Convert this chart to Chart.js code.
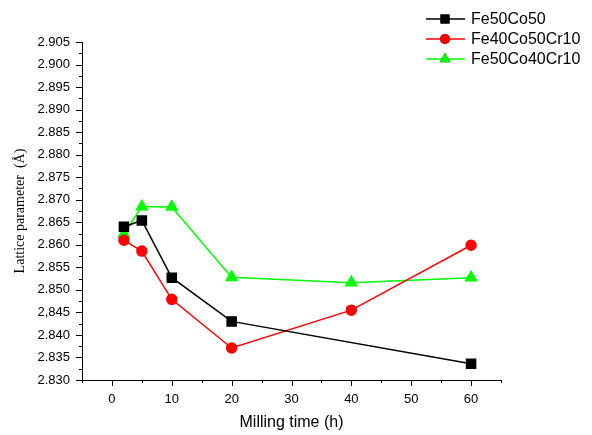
<!DOCTYPE html>
<html>
<head>
<meta charset="utf-8">
<script src="https://cdn.jsdelivr.net/npm/chart.js@4"></script>
<style>
  html, body { margin: 0; padding: 0; background: #fff; }
  #wrap { width: 592px; height: 435px; }
</style>
</head>
<body>
<div id="wrap"><canvas id="chart-area"></canvas></div>
<script>
// data
var millingTimes = [2, 5, 10, 20, 40, 60];
var fe50co50 = [2.8640, 2.8654, 2.8527, 2.8430, null, 2.8336];
var fe40co50cr10 = [2.8610, 2.8586, 2.8479, 2.8371, 2.8455, 2.8599];
var fe50co40cr10 = [2.8624, 2.8685, 2.8684, 2.8528, 2.8516, 2.8527];

var seriesNames = ['Fe50Co50', 'Fe40Co50Cr10', 'Fe50Co40Cr10'];

var xTickValues = [0, 10, 20, 30, 40, 50, 60];
var xTickLabels = ['0', '10', '20', '30', '40', '50', '60'];
var yTickLabels = ['2.830', '2.835', '2.840', '2,845', '2.850', '2.855', '2.860', '2.865',
                   '2.870', '2.875', '2.880', '2.885', '2.890', '2.895', '2.900', '2.905'];

function toPoints(values) {
    return millingTimes.map(function(t, i) { return { x: t, y: values[i] }; });
}

var sans = "'Liberation Sans', Arial, sans-serif";

// minor + major tick marks, drawn outside the axes
var tickMarks = {
    id: 'tickMarks',
    afterDraw: function(chart) {
        var ctx = chart.ctx;
        var xs = chart.scales.x, ys = chart.scales.y;
        ctx.save();
        ctx.strokeStyle = '#000';
        ctx.lineWidth = 1;
        ctx.beginPath();
        for (var v = -5; v <= 65; v += 5) {
            var px = Math.round(xs.getPixelForValue(v)) + 0.5;
            var len = (v % 10 === 0) ? 6 : 3;
            ctx.moveTo(px, xs.top);
            ctx.lineTo(px, xs.top + len);
        }
        for (var k = 0; k <= 30; k++) {
            var val = 2.830 + k * 0.0025;
            var py = Math.round(ys.getPixelForValue(val)) + 0.5;
            var l = (k % 2 === 0) ? 6 : 3;
            ctx.moveTo(ys.right, py);
            ctx.lineTo(ys.right - l, py);
        }
        ctx.stroke();
        ctx.restore();
    }
};

// legend in the top right corner
var cornerLegend = {
    id: 'cornerLegend',
    afterDraw: function(chart) {
        var ctx = chart.ctx;
        var rows = [19, 39, 59];
        ctx.save();
        chart.data.datasets.forEach(function(ds, i) {
            var y = rows[i];
            ctx.strokeStyle = ds.borderColor;
            ctx.lineWidth = 1.5;
            ctx.beginPath();
            ctx.moveTo(426, y);
            ctx.lineTo(465, y);
            ctx.stroke();
            Chart.helpers.drawPoint(ctx, {
                pointStyle: ds.pointStyle,
                radius: ds.pointRadius,
                borderWidth: 0
            }, 445, y);
            ctx.fillStyle = ds.pointBackgroundColor;
            ctx.fill();
            ctx.fillStyle = '#000';
            ctx.font = '16px ' + sans;
            ctx.textBaseline = 'middle';
            ctx.textAlign = 'left';
            ctx.fillText(ds.label, 471, y + 1);
        });
        ctx.restore();
    }
};

var config = {
    type: 'line',
    data: {
        datasets: [{
            label: seriesNames[0],
            data: toPoints(fe50co50),
            borderColor: '#000000',
            backgroundColor: '#000000',
            pointBackgroundColor: '#000000',
            pointBorderColor: '#000000',
            pointStyle: 'rect',
            pointRadius: 6.4,
            borderWidth: 1.5,
            spanGaps: true
        }, {
            label: seriesNames[1],
            data: toPoints(fe40co50cr10),
            borderColor: '#ff0000',
            backgroundColor: '#ff0000',
            pointBackgroundColor: '#ff0000',
            pointBorderColor: '#ff0000',
            pointStyle: 'circle',
            pointRadius: 5,
            borderWidth: 1.5
        }, {
            label: seriesNames[2],
            data: toPoints(fe50co40cr10),
            borderColor: '#00ff00',
            backgroundColor: '#00ff00',
            pointBackgroundColor: '#00ff00',
            pointBorderColor: '#00ff00',
            pointStyle: 'triangle',
            pointRadius: 6.3,
            borderWidth: 1.5
        }]
    },
    options: {
        responsive: true,
        maintainAspectRatio: false,
        animation: false,
        layout: { padding: { top: 42, right: 91, left: 0, bottom: 0 } },
        plugins: {
            legend: { display: false },
            tooltip: { enabled: false }
        },
        elements: { point: { borderWidth: 0 }, line: { tension: 0 } },
        scales: {
            x: {
                type: 'linear',
                min: -5,
                max: 65,
                grid: { display: false },
                border: { display: true, color: '#000', width: 1 },
                ticks: {
                    stepSize: 5,
                    autoSkip: false,
                    maxRotation: 0,
                    padding: 4,
                    color: '#000',
                    font: { family: sans, size: 13 },
                    callback: function(value) {
                        var i = xTickValues.indexOf(value);
                        return i >= 0 ? xTickLabels[i] : '';
                    }
                },
                title: {
                    display: true,
                    text: 'Milling time (h)',
                    color: '#000',
                    font: { family: sans, size: 16 },
                    padding: { top: 0, bottom: 3 }
                },
                afterFit: function(scale) { scale.height = 55; }
            },
            y: {
                min: 2.830,
                max: 2.905,
                grid: { display: false },
                border: { display: true, color: '#000', width: 1 },
                ticks: {
                    stepSize: 0.005,
                    autoSkip: false,
                    padding: 4,
                    color: '#000',
                    font: { family: sans, size: 13 },
                    callback: function(value) {
                        var i = Math.round((value - 2.830) / 0.005);
                        return yTickLabels[i];
                    }
                },
                title: {
                    display: true,
                    text: 'Lattice parameter  (Å)',
                    color: '#000',
                    font: { family: "'Liberation Serif', 'Times New Roman', serif", size: 14 },
                    padding: { top: 12, bottom: 0 }
                },
                afterFit: function(scale) { scale.width = 82; }
            }
        }
    },
    plugins: [tickMarks, cornerLegend]
};

window.onload = function() {
    var ctx = document.getElementById('chart-area').getContext('2d');
    window.myLine = new Chart(ctx, config);
};
</script>
</body>
</html>
